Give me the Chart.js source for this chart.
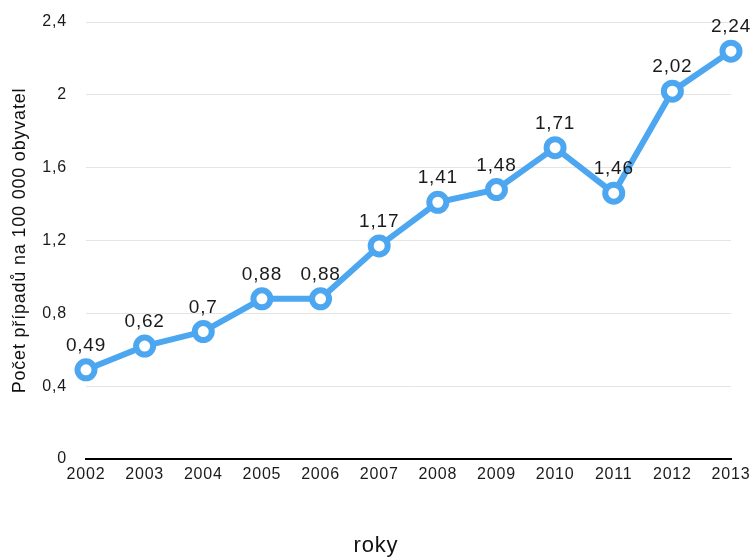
<!DOCTYPE html>
<html>
<head>
<meta charset="utf-8">
<script src="https://cdn.jsdelivr.net/npm/chart.js@4"></script>
<style>
    html, body { margin: 0; padding: 0; background: #fff; }
    #wrap { width: 752px; height: 559px; }
</style>
</head>
<body>
<div id="wrap"><canvas id="chart"></canvas></div>
<script>
const years = ['2002', '2003', '2004', '2005', '2006', '2007', '2008', '2009', '2010', '2011', '2012', '2013'];
const cases = [0.49, 0.62, 0.7, 0.88, 0.88, 1.17, 1.41, 1.48, 1.71, 1.46, 2.02, 2.24];
const yTicks = [0, 0.4, 0.8, 1.2, 1.6, 2, 2.4];
const xTitle = 'roky';
const yTitle = 'Počet případů na 100 000 obyvatel';

const lineColor = 'rgb(76, 167, 240)';
const fontFamily = '"Liberation Sans", Arial, Helvetica, sans-serif';

const czech = v => String(Math.round(v * 100) / 100).replace('.', ',');

// Slightly looser tracking for every text on the canvas
const tracking = {
    id: 'tracking',
    beforeDraw(chart) {
        chart.ctx.letterSpacing = '0.8px';
    }
};

// Writes each value above its point
const valueLabels = {
    id: 'valueLabels',
    afterDatasetsDraw(chart) {
        const ctx = chart.ctx;
        const meta = chart.getDatasetMeta(0);
        ctx.save();
        ctx.font = '19px ' + fontFamily;
        ctx.fillStyle = '#1a1a1a';
        ctx.textAlign = 'center';
        ctx.textBaseline = 'alphabetic';
        meta.data.forEach((pt, i) => {
            ctx.fillText(czech(cases[i]), pt.x, pt.y - 19);
        });
        ctx.restore();
    }
};

// x axis title sits in the middle of the whole canvas, not the plot area
const bottomTitle = {
    id: 'bottomTitle',
    afterDraw(chart) {
        const ctx = chart.ctx;
        ctx.save();
        ctx.font = '22px ' + fontFamily;
        ctx.fillStyle = '#111';
        ctx.textAlign = 'center';
        ctx.textBaseline = 'middle';
        ctx.fillText(xTitle, chart.width / 2, 546);
        ctx.restore();
    }
};

new Chart(document.getElementById('chart'), {
    type: 'line',
    data: {
        labels: years,
        datasets: [{
            data: cases,
            borderColor: lineColor,
            borderWidth: 6,
            pointRadius: 8.5,
            pointBorderWidth: 6,
            pointBackgroundColor: '#fff',
            pointBorderColor: lineColor,
            tension: 0
        }]
    },
    options: {
        responsive: true,
        maintainAspectRatio: false,
        animation: false,
        layout: { padding: { top: 22, right: 21, left: 0, bottom: 0 } },
        plugins: {
            legend: { display: false },
            tooltip: { enabled: false }
        },
        scales: {
            x: {
                offset: false,
                grid: { display: false, drawTicks: false },
                border: { display: true, color: '#000', width: 2 },
                ticks: {
                    padding: 6,
                    color: '#1a1a1a',
                    font: { family: fontFamily, size: 16 },
                    maxRotation: 0,
                    autoSkip: false
                },
                afterFit: scale => {
                    scale.height = 100;
                    scale.paddingLeft = 0;
                    scale.paddingRight = 0;
                }
            },
            y: {
                min: 0,
                max: 2.4,
                afterBuildTicks: scale => {
                    scale.ticks = yTicks.map(v => ({ value: v }));
                },
                grid: { color: '#e4e4e4', lineWidth: 1, drawTicks: false },
                border: { display: false },
                ticks: {
                    padding: 19,
                    color: '#1a1a1a',
                    font: { family: fontFamily, size: 16 },
                    callback: v => czech(v)
                },
                title: {
                    display: true,
                    text: yTitle,
                    color: '#111',
                    font: { family: fontFamily, size: 18 },
                    padding: { top: 9, bottom: 0 }
                },
                afterFit: scale => {
                    scale.width = 86;
                    scale.paddingTop = 0;
                    scale.paddingBottom = 0;
                }
            }
        }
    },
    plugins: [tracking, valueLabels, bottomTitle]
});
</script>
</body>
</html>
